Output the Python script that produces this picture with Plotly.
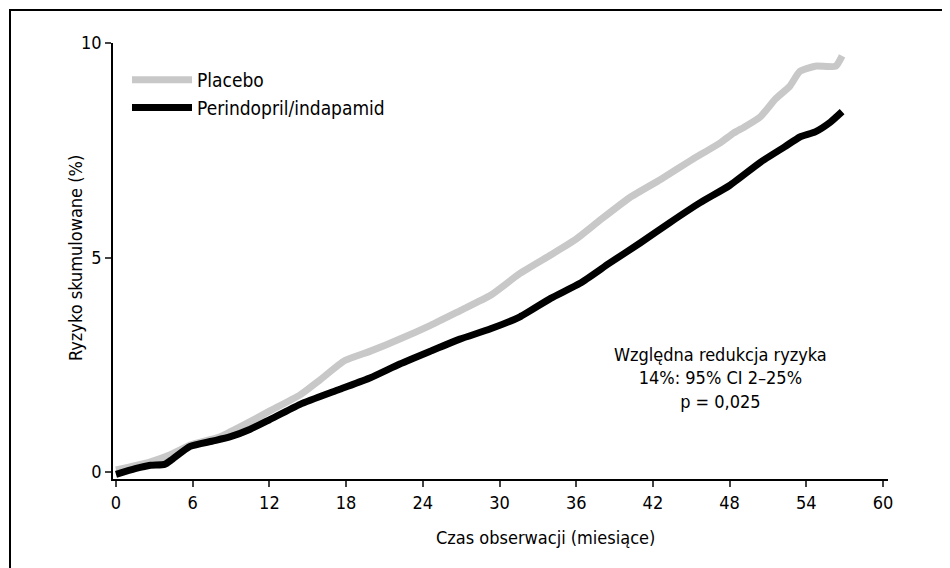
import plotly.graph_objects as go

# Data (months, cumulative risk %)
placebo_months = [0, 1.5, 2.7, 4.2, 5.8, 8.1, 10, 12, 14.4, 16, 17.9, 19.9, 22.2, 24.6, 26.9,
                  29.3, 31.6, 34, 35.9, 37.9, 40.2, 42.6, 45, 47.3, 48.3, 49.2, 50.4, 51.6, 52.7,
                  53.5, 54.7, 56.3, 56.8]
placebo_risk = [0.05, 0.15, 0.24, 0.4, 0.63, 0.82, 1.1, 1.42, 1.8, 2.16, 2.6, 2.82, 3.1, 3.42,
                3.76, 4.12, 4.63, 5.06, 5.41, 5.88, 6.4, 6.82, 7.27, 7.68, 7.9, 8.05, 8.28, 8.7,
                8.99, 9.34, 9.46, 9.46, 9.7]

perindo_months = [0, 1.5, 2.7, 3.8, 4.4, 5.8, 7.5, 8.9, 10.5, 12, 14.4, 17.5, 19.9, 22.2, 24.6,
                  26.9, 29.3, 31.6, 34, 36.3, 38.6, 41, 43.3, 45.7, 48, 50.4, 52.3, 53.5,
                  54.7, 55.9, 56.8]
perindo_risk = [-0.05, 0.08, 0.16, 0.18, 0.3, 0.6, 0.72, 0.82, 1.0, 1.22, 1.58, 1.93, 2.2, 2.52,
                2.82, 3.1, 3.34, 3.62, 4.05, 4.4, 4.87, 5.34, 5.81, 6.28, 6.68, 7.22, 7.58,
                7.81, 7.93, 8.16, 8.4]

x_ticks = [0, 6, 12, 18, 24, 30, 36, 42, 48, 54, 60]
y_ticks = [0, 5, 10]

FONT = "Liberation Sans Narrow, Arial Narrow, DejaVu Sans Condensed, sans-serif"

fig = go.Figure()
fig.add_trace(go.Scatter(x=placebo_months, y=placebo_risk, mode="lines", name="Placebo",
                         line=dict(color="#c8c8c8", width=7, shape="spline", smoothing=0.5)))
fig.add_trace(go.Scatter(x=perindo_months, y=perindo_risk, mode="lines", name="Perindopril/indapamid",
                         line=dict(color="#000000", width=7, shape="spline", smoothing=0.5)))

OFF = 8  # page body offset
W, H = 950, 568
L, T = 113 - OFF, 43 - OFF
R = W - (888 - OFF)
B = H - (479 - OFF)
pw, ph = W - L - R, H - T - B


def px(sx):
    return (sx - OFF - L) / pw


def py(sy):
    return (H - B - (sy - OFF)) / ph


fig.update_layout(
    width=W, height=H,
    margin=dict(l=L, r=R, t=T, b=B),
    paper_bgcolor="white", plot_bgcolor="white",
    font=dict(family=FONT, size=18, color="black"),
    showlegend=True,
    legend=dict(x=px(127), y=py(61), xanchor="left", yanchor="top", bgcolor="rgba(0,0,0,0)",
                font=dict(size=19), itemwidth=60, tracegroupgap=0),
    xaxis=dict(range=[-0.235, 60.39], tickvals=x_ticks, ticks="outside", ticklen=6,
               tickwidth=2, showline=True, linecolor="black", linewidth=2, showgrid=False,
               zeroline=False),
    yaxis=dict(range=[-0.16, 10.0], tickvals=y_ticks, ticks="outside", ticklen=6,
               tickwidth=1.5, showline=True, linecolor="black", linewidth=1.5, showgrid=False,
               zeroline=False),
    annotations=[
        dict(text="Czas obserwacji (miesiące)", x=px(545), y=py(537), xref="paper", yref="paper",
             showarrow=False, xanchor="center", yanchor="middle", font=dict(size=18)),
        dict(text="Ryzyko skumulowane (%)", x=px(75), y=py(258), xref="paper", yref="paper",
             showarrow=False, textangle=-90, xanchor="center", yanchor="middle", font=dict(size=18)),
        dict(text="Względna redukcja ryzyka<br>14%: 95% CI 2–25%<br>p = 0,025",
             x=px(720), y=py(378), xref="paper", yref="paper", showarrow=False, align="center",
             xanchor="center", yanchor="middle", font=dict(size=18)),
    ],
    shapes=[dict(type="rect", xref="paper", yref="paper",
                 x0=px(10), x1=px(W + 30), y0=py(H + 30), y1=py(10),
                 line=dict(color="black", width=2), fillcolor="rgba(0,0,0,0)")],
)

fig.write_html("out.html")
